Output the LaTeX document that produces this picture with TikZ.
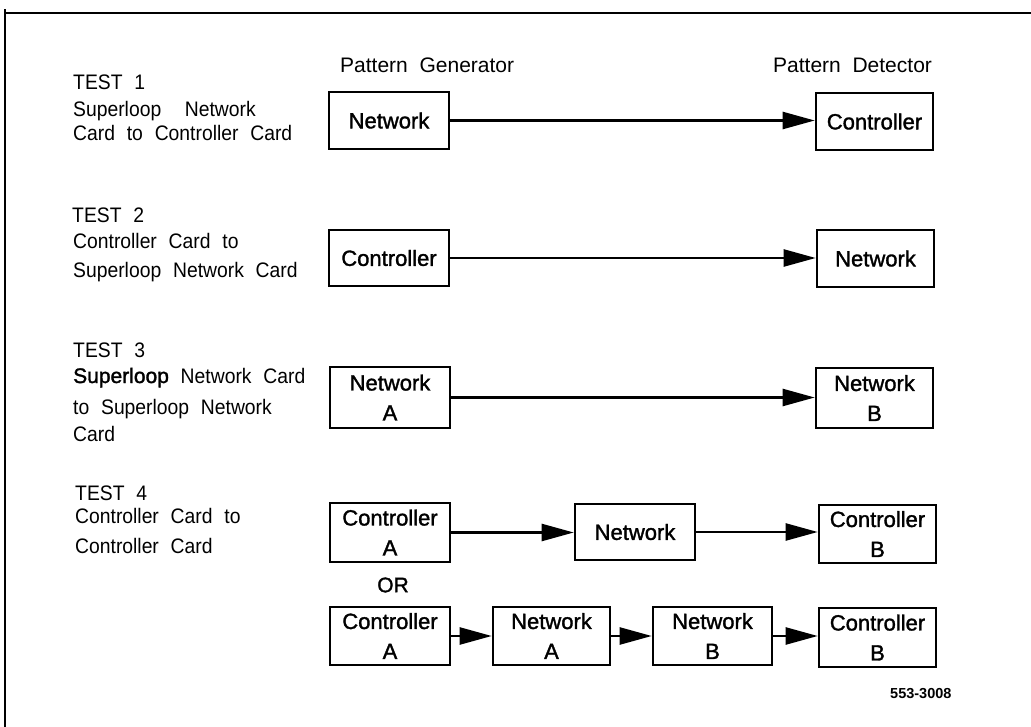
\documentclass[tikz,border=0pt]{standalone}
\usepackage{fontspec}
\setmainfont[FakeStretch=0.92,WordSpace=2.2]{Liberation Sans}
\newfontfamily\headfont[WordSpace=2]{Liberation Sans}
\newfontfamily\boxfont[FakeBold=1.5]{Liberation Sans}
\newfontfamily\tagfont{Liberation Sans Bold}
\usetikzlibrary{arrows.meta}
\begin{document}
\begin{tikzpicture}[x=1pt,y=-1pt,
  card/.style={draw, line width=2.6pt, inner sep=0pt, align=center,
    font=\boxfont\fontsize{22}{30}\selectfont},
  lbl/.style={anchor=base west, inner sep=0pt, font=\fontsize{21}{25}\selectfont},
  head/.style={anchor=base west, inner sep=0pt, font=\headfont\fontsize{21}{25}\selectfont},
  conn/.style={line width=2.4pt, -{Triangle[length=32pt,width=17pt]}},
  frame/.style={line width=2.5pt}]
\useasboundingbox (0,0) rectangle (1031,727);
% frame
\draw[frame] (5,727) -- (5,9);
\draw[frame] (4,13) -- (1031,13);
% headings
\node[head] (hgen) at (340,73) {Pattern Generator};
\node[head] (hdet) at (773,73) {Pattern Detector};
% test 1
\node[lbl] (t1a) at (73,90) {TEST 1};
\node[lbl] (t1b) at (73,117) {Superloop~~Network};
\node[lbl] (t1c) at (73,141) {Card to Controller Card};
\node[card, minimum width=120pt, minimum height=57pt] (g1) at (389,120.5) {Network};
\node[card, minimum width=117pt, minimum height=57pt] (d1) at (874.5,121.5) {Controller};
\draw[conn] (g1.east) -- (d1.west |- g1.east);
% test 2
\node[lbl] (t2a) at (72,223) {TEST 2};
\node[lbl] (t2b) at (73,249) {Controller Card to};
\node[lbl] (t2c) at (73,278) {Superloop Network Card};
\node[card, minimum width=120pt, minimum height=56pt] (g2) at (389,258) {Controller};
\node[card, minimum width=117pt, minimum height=57pt] (d2) at (875.5,258.5) {Network};
\draw[conn] (g2.east) -- (d2.west |- g2.east);
% test 3
\node[lbl] (t3a) at (73,357) {TEST 3};
\node[lbl] (t3b) at (73,383) {{\boxfont Superloop} Network Card};
\node[lbl] (t3c) at (73,414) {to Superloop Network};
\node[lbl] (t3d) at (73,441) {Card};
\node[card, minimum width=120pt, minimum height=61pt] (g3) at (390,397.5) {Network\\A};
\node[card, minimum width=117pt, minimum height=60pt] (d3) at (874.5,398) {Network\\B};
\draw[conn] (g3.east) -- (d3.west |- g3.east);
% test 4
\node[lbl] (t4a) at (75,500) {TEST 4};
\node[lbl] (t4b) at (75,523) {Controller Card to};
\node[lbl] (t4c) at (75,553) {Controller Card};
\node[card, minimum width=120pt, minimum height=59pt] (ca) at (390,532.5) {Controller\\A};
\node[card, minimum width=120pt, minimum height=56pt] (nm) at (635,532) {Network};
\node[card, minimum width=117pt, minimum height=58pt] (cb) at (877.5,534) {Controller\\B};
\draw[conn] (ca.east) -- (nm.west |- ca.east);
\draw[conn] (nm.east) -- (cb.west |- nm.east);
\node[inner sep=0pt, font=\boxfont\fontsize{21}{25}\selectfont] (or) at (393,585) {OR};
\node[card, minimum width=120pt, minimum height=58pt] (ca2) at (390,636) {Controller\\A};
\node[card, minimum width=117pt, minimum height=58pt] (na2) at (551.5,636) {Network\\A};
\node[card, minimum width=119pt, minimum height=58pt] (nb2) at (712.5,636) {Network\\B};
\node[card, minimum width=117pt, minimum height=59pt] (cb2) at (877.5,637.5) {Controller\\B};
\draw[conn] (ca2.east) -- (na2.west |- ca2.east);
\draw[conn] (na2.east) -- (nb2.west |- na2.east);
\draw[conn] (nb2.east) -- (cb2.west |- nb2.east);
% figure number
\node[anchor=base west, inner sep=0pt, font=\tagfont\fontsize{14.5}{16}\selectfont] (fig) at (890,698) {553-3008};
\end{tikzpicture}
\end{document}
